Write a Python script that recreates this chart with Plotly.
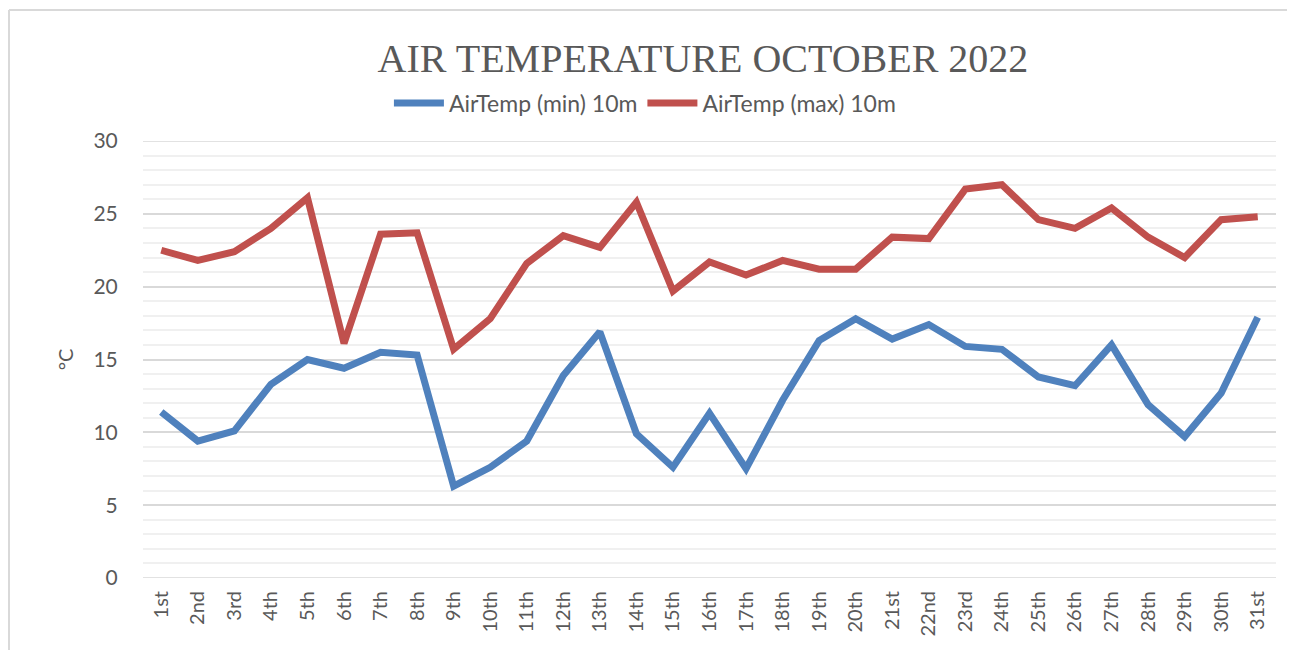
import plotly.graph_objects as go

days = ["1st", "2nd", "3rd", "4th", "5th", "6th", "7th", "8th", "9th", "10th",
        "11th", "12th", "13th", "14th", "15th", "16th", "17th", "18th", "19th", "20th",
        "21st", "22nd", "23rd", "24th", "25th", "26th", "27th", "28th", "29th", "30th", "31st"]

temp_min = [11.4, 9.4, 10.1, 13.3, 15.0, 14.4, 15.5, 15.3, 6.3, 7.6,
            9.4, 13.9, 16.9, 9.9, 7.6, 11.3, 7.5, 12.2, 16.3, 17.8,
            16.4, 17.4, 15.9, 15.7, 13.8, 13.2, 16.0, 11.9, 9.7, 12.7, 17.9]

temp_max = [22.5, 21.8, 22.4, 24.0, 26.1, 16.1, 23.6, 23.7, 15.7, 17.8,
            21.6, 23.5, 22.7, 25.8, 19.7, 21.7, 20.8, 21.8, 21.2, 21.2,
            23.4, 23.3, 26.7, 27.0, 24.6, 24.0, 25.4, 23.4, 22.0, 24.6, 24.8]

y_min, y_max = 0, 30

W, H = 1287, 642
L, R, T, B = 135, 19, 133, 72
PW, PH = W - L - R, H - T - B

fig = go.Figure()
fig.add_trace(go.Scatter(x=days, y=temp_min, mode="lines", name="AirTemp (min) 10m",
                         line=dict(color="#4f81bd", width=7)))
fig.add_trace(go.Scatter(x=days, y=temp_max, mode="lines", name="AirTemp (max) 10m",
                         line=dict(color="#c0504d", width=7)))

top_border = (PH + T - 2) / PH
left_border = (1 - L) / PW

edge_lines = [dict(type="line", xref="paper", yref="y", x0=0, x1=1, y0=v, y1=v, layer="below",
                   line=dict(color="#d9d9d9", width=1.5)) for v in (y_min, y_max)]

fig.update_layout(
    width=W, height=H,
    margin=dict(l=L, r=R, t=T, b=B),
    paper_bgcolor="white", plot_bgcolor="white",
    font=dict(family="Lato, 'Open Sans', sans-serif", color="#595959", size=20),
    title=dict(text="AIR TEMPERATURE OCTOBER 2022", x=0.540, xanchor="center",
               y=1 - 50 / H, yanchor="middle",
               font=dict(family="'Liberation Serif', 'DejaVu Serif', serif", size=40, color="#595959")),
    legend=dict(orientation="h", x=0.443, xanchor="center", y=1 + (T - 95) / PH, yanchor="middle",
                font=dict(size=23, color="#595959"), itemwidth=50, tracegroupgap=0),
    showlegend=True,
    shapes=[
        dict(type="line", xref="paper", yref="paper", x0=left_border, x1=1.05, y0=top_border, y1=top_border,
             line=dict(color="#d9d9d9", width=2)),
        dict(type="line", xref="paper", yref="paper", x0=left_border, x1=left_border, y0=top_border, y1=-0.3,
             line=dict(color="#d9d9d9", width=2)),
    ] + edge_lines,
)

fig.update_xaxes(type="category", range=[-0.5, 30.5], tickangle=-90, showgrid=False,
                 ticks="outside", ticklen=4, tickcolor="rgba(0,0,0,0)",
                 tickfont=dict(size=20, color="#595959"), showline=False, zeroline=False)
fig.update_yaxes(range=[y_min, y_max], dtick=5, tick0=0, showgrid=True, gridcolor="#d9d9d9", gridwidth=1.5,
                 zeroline=False, showline=False,
                 ticks="outside", ticklen=20, tickcolor="rgba(0,0,0,0)",
                 minor=dict(dtick=1, showgrid=True, gridcolor="#f0f0f0", gridwidth=1.5, ticks=""),
                 tickfont=dict(size=21, color="#595959"),
                 title=dict(text="°C", font=dict(size=20, color="#595959"), standoff=14))

fig.write_html("out.html")
